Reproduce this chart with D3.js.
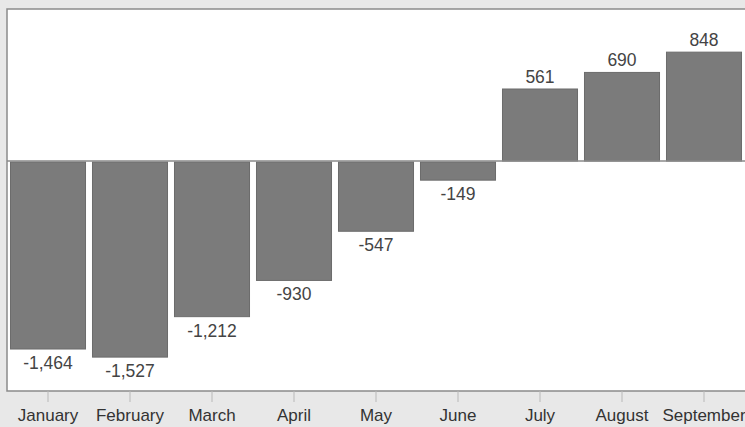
<!DOCTYPE html>
<html>
<head>
<meta charset="utf-8">
<script src="https://cdn.jsdelivr.net/npm/d3@7"></script>
<style>
  html, body { margin: 0; padding: 0; background: #e8e8e8; }
  svg { display: block; }
</style>
</head>
<body>
<svg id="chart" width="745" height="427"></svg>
<script>
const months = ["January","February","March","April","May","June","July","August","September"];
const values = [-1464, -1527, -1212, -930, -547, -149, 561, 690, 848];
const yDomain = [-1791, 1184];

const W = 745, H = 427;
const plot = { left: 7, top: 9, right: 752, bottom: 391 };
const svg = d3.select("#chart");

svg.append("rect").attr("x", 0).attr("y", 0).attr("width", W).attr("height", H).attr("fill", "#e8e8e8");

const x = d3.scaleBand().domain(months).range([7, 745]).paddingInner(0.085).paddingOuter(0.0425);
const y = d3.scaleLinear().domain(yDomain).range([plot.bottom, plot.top]);

svg.append("rect")
  .attr("x", plot.left).attr("y", plot.top)
  .attr("width", plot.right - plot.left).attr("height", plot.bottom - plot.top)
  .attr("fill", "#ffffff").attr("stroke", "#8a8a8a").attr("stroke-width", 1.5);

svg.selectAll("rect.bar").data(values).enter().append("rect")
  .attr("class", "bar")
  .attr("x", (d, i) => x(months[i]))
  .attr("width", x.bandwidth())
  .attr("y", d => d >= 0 ? y(d) : y(0) + 1)
  .attr("height", d => Math.abs(y(d) - y(0)) - (d >= 0 ? 0 : 1))
  .attr("fill", "#7b7b7b")
  .attr("stroke", "#6c6c6c").attr("stroke-width", 1);

// zero line
svg.append("line")
  .attr("x1", plot.left).attr("x2", plot.right)
  .attr("y1", y(0)).attr("y2", y(0))
  .attr("stroke", "#8a8a8a").attr("stroke-width", 1.5);

const locale = d3.formatLocale({ decimal: ".", thousands: ",", grouping: [3], currency: ["", ""], minus: "-" });
const fmt = locale.format(",");
svg.selectAll("text.val").data(values).enter().append("text")
  .attr("class", "val")
  .attr("x", (d, i) => x(months[i]) + x.bandwidth() / 2)
  .attr("y", d => d >= 0 ? y(d) - 6 : y(d) + 20)
  .attr("text-anchor", "middle")
  .attr("font-family", "Liberation Sans, Arial, sans-serif")
  .attr("font-size", 17.5)
  .attr("fill", "#444")
  .text(d => fmt(d));

// x axis
const xAxis = d3.axisBottom(x).tickSize(11).tickPadding(7);
const gx = svg.append("g").attr("transform", `translate(0,${plot.bottom})`).call(xAxis);
gx.select(".domain").remove();
gx.selectAll(".tick line").attr("stroke", "#b8b8b8");
gx.selectAll(".tick text")
  .attr("font-family", "Liberation Sans, Arial, sans-serif")
  .attr("font-size", 17)
  .attr("fill", "#333");
</script>
</body>
</html>
